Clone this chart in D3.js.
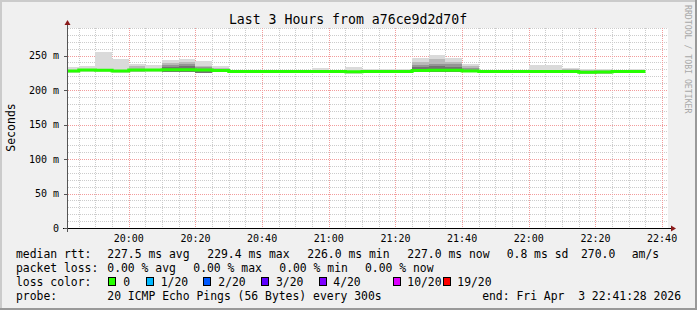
<!DOCTYPE html>
<html><head><meta charset="utf-8">
<script src="https://cdn.jsdelivr.net/npm/d3@7"></script>
<style>
body{margin:0;background:#f0f0f0;}
svg{display:block;}
text{font-family:"DejaVu Sans Mono",monospace;fill:#000;}
</style>
</head><body>
<svg id="chart" width="697" height="310"></svg>
<script>
// ---------------- data ----------------
const titleText = "Last 3 Hours from a76ce9d2d70f";
const startTime = "19:41:28";
const endTime = "22:41:28";
const binEnds = ["19:45","19:50","19:55","20:00","20:05","20:10","20:15","20:20","20:25","20:30",
  "20:35","20:40","20:45","20:50","20:55","21:00","21:05","21:10","21:15","21:20",
  "21:25","21:30","21:35","21:40","21:45","21:50","21:55","22:00","22:05","22:10",
  "22:15","22:20","22:25","22:30","22:35"];
const median = [227.5,229.0,228.8,227.8,229.0,229.0,229.4,229.4,229.0,228.5,
  227.0,227.0,227.0,227.0,227.0,227.0,227.0,226.5,227.0,227.0,
  227.0,228.5,228.8,228.8,227.8,226.8,226.8,226.8,227.0,227.0,
  227.0,226.0,226.2,227.0,227.0];
const smokeBottom = [224.5,226,226,224.8,226,226,226.4,226.4,225,225.5,
  224.5,224.5,224.5,224.5,224.5,224.5,224.5,224,224.5,224.5,
  224.5,225.5,225.8,225.8,225.5,224.3,224.3,224.3,224.5,224.5,
  224.5,223.5,223.7,224.5,224.5];
const smokeOuter = [234,235.5,255.5,245,238.5,236.5,243.5,245,242,235.5,
  229.5,229.5,229.5,229.5,229.5,232.5,229.5,234,231,231,
  231,246.5,250.5,246.5,237.5,229,229,229,236.5,236.5,
  232,230.5,230,229,230.5];
const smokeMid = [null,null,null,null,235.5,null,239.5,240.5,235.5,232,
  null,null,null,null,null,null,null,null,null,null,
  null,240,245,241,235,null,null,null,null,null,
  230.5,229.8,229.8,null,229.5];
const smokeDark = [null,null,null,null,null,null,236.5,238.5,234,null,
  null,null,null,null,null,null,null,null,null,null,
  null,236.5,238.5,237.5,232,null,null,null,null,null,
  null,null,null,null,null];
const smokeDarkest = [null,null,null,null,null,null,234,234.5,231,null,
  null,null,null,null,null,null,null,null,null,null,
  null,234,235,234,null,null,null,null,null,null,
  null,null,null,null,null];
const yTickValues = [0,50,100,150,200,250];
const yTickLabels = ["0","50 m","100 m","150 m","200 m","250 m"];
const xTickTimes = ["20:00","20:20","20:40","21:00","21:20","21:40","22:00","22:20","22:40"];
const xTickLabels = ["20:00","20:20","20:40","21:00","21:20","21:40","22:00","22:20","22:40"];
const lossLabels = ["0","1/20","2/20","3/20","4/20","10/20","19/20"];
const lossColors = ["#26ff00","#00b8ff","#0059ff","#5e00ff","#7e00ff","#dd00ff","#ff0000"];
const statRtt = ["227.5 ms avg","229.4 ms max","226.0 ms min","227.0 ms now","0.8 ms sd","270.0","am/s"];
const statLoss = ["0.00 % avg","0.00 % max","0.00 % min","0.00 % now"];
const probeText = "20 ICMP Echo Pings (56 Bytes) every 300s";
const endText = "end: Fri Apr  3 22:41:28 2026";

// ---------------- helpers ----------------
function toDate(s){const p=s.split(":").map(Number);return new Date(2026,3,3,p[0],p[1],p[2]||0);}
const svg = d3.select("#chart");
const L=67, R=667, T=28, B=228;
const x = d3.scaleTime().domain([toDate(startTime),toDate(endTime)]).range([L,R]);
const y = d3.scaleLinear().domain([0,290]).range([B,T]);
const pr = v=>Math.round(v);

// dotted patterns
const defs = svg.append("defs");
function dotPattern(id, w, h, color){
  const p = defs.append("pattern").attr("id",id).attr("patternUnits","userSpaceOnUse")
    .attr("width",w).attr("height",h);
  p.append("rect").attr("width",1).attr("height",1).attr("fill",color);
}
dotPattern("hMinor",2,1,"#cccccc");
dotPattern("vMinor",1,2,"#cccccc");
dotPattern("hMajor",2,1,"#f29c9c");
dotPattern("vMajor",1,2,"#f29c9c");

// background / bevel
svg.append("rect").attr("width",697).attr("height",310).attr("fill","#f0f0f0");
svg.append("rect").attr("x",0).attr("y",0).attr("width",697).attr("height",2).attr("fill","#cbcbcb");
svg.append("rect").attr("x",0).attr("y",0).attr("width",2).attr("height",310).attr("fill","#cbcbcb");
svg.append("rect").attr("x",695).attr("y",0).attr("width",2).attr("height",310).attr("fill","#999999");
svg.append("rect").attr("x",0).attr("y",308).attr("width",697).attr("height",2).attr("fill","#999999");
// canvas
svg.append("rect").attr("x",L).attr("y",T).attr("width",R-L+1).attr("height",B-T).attr("fill","#ffffff");

// grid
const grid = svg.append("g").attr("shape-rendering","crispEdges");
const minorY = d3.range(10,291,10).filter(v=>v%50!==0);
const majorY = d3.range(50,291,50);
const gridTimes = d3.range(0,36).map(k=>({t:new Date(toDate("19:45").getTime()+k*300000), major:((45+5*k)%20)===0}));
grid.selectAll("rect.hy").data(minorY).join("rect").attr("class","hy")
  .attr("x",L).attr("width",R-L+1).attr("y",d=>pr(y(d))).attr("height",1).attr("fill","url(#hMinor)");
grid.selectAll("rect.vx").data(gridTimes.filter(d=>!d.major)).join("rect").attr("class","vx")
  .attr("y",T).attr("height",B-T).attr("x",d=>pr(x(d.t))).attr("width",1).attr("fill","url(#vMinor)");
grid.selectAll("rect.hyM").data(majorY).join("rect").attr("class","hyM")
  .attr("x",L).attr("width",R-L+1).attr("y",d=>pr(y(d))).attr("height",1).attr("fill","url(#hMajor)");
grid.selectAll("rect.vxM").data(gridTimes.filter(d=>d.major)).join("rect").attr("class","vxM")
  .attr("y",T).attr("height",B-T).attr("x",d=>pr(x(d.t))).attr("width",1).attr("fill","url(#vMajor)");

// smoke
const bins = binEnds.map((e,i)=>({x0: i===0?toDate(startTime):toDate(binEnds[i-1]), x1: toDate(e), i}));
const layers = [
  {vals:smokeOuter,color:"#dadada"},
  {vals:smokeMid,color:"#b9b9b9"},
  {vals:smokeDark,color:"#959595"},
  {vals:smokeDarkest,color:"#727272"}
];
const smoke = svg.append("g");
layers.forEach(ly=>{
  smoke.append("g").selectAll("rect").data(bins.filter(b=>ly.vals[b.i]!==null)).join("rect")
    .attr("x",b=>x(b.x0)).attr("width",b=>x(b.x1)-x(b.x0))
    .attr("y",b=>y(ly.vals[b.i])).attr("height",b=>y(smokeBottom[b.i])-y(ly.vals[b.i]))
    .attr("fill",ly.color).attr("shape-rendering","crispEdges");
});

// median line (step)
const pts = bins.map(b=>[b.x0, median[b.i]]);
pts.push([bins[bins.length-1].x1, median[median.length-1]]);
svg.append("path").datum(pts)
  .attr("d", d3.line().x(d=>x(d[0])).y(d=>y(d[1])).curve(d3.curveStepAfter))
  .attr("fill","none").attr("stroke","#26ff00").attr("stroke-width",3);

// axes
const axisG = svg.append("g");
axisG.append("line").attr("x1",L-4).attr("x2",R+4).attr("y1",B+0.5).attr("y2",B+0.5).attr("stroke","#000");
axisG.append("line").attr("x1",L+0.5).attr("x2",L+0.5).attr("y1",B+4).attr("y2",T-4).attr("stroke","#555");
axisG.append("path").attr("d",`M${R+4},${B-2.5} L${R+9},${B+0.5} L${R+4},${B+3.5} Z`).attr("fill","#8b1a1a");
axisG.append("path").attr("d",`M${L-2.5},${T-3} L${L+0.5},${T-8} L${L+3.5},${T-3} Z`).attr("fill","#8b1a1a");
// y ticks
axisG.selectAll("line.yt").data(yTickValues).join("line").attr("class","yt")
  .attr("x1",L-3).attr("x2",L).attr("y1",d=>pr(y(d))+0.5).attr("y2",d=>pr(y(d))+0.5).attr("stroke","#555");
axisG.selectAll("text.ytl").data(yTickValues).join("text").attr("class","ytl")
  .attr("x",59).attr("y",d=>y(d)+3.5).attr("text-anchor","end")
  .attr("font-size","10px").text((d,i)=>yTickLabels[i]);
// x tick labels
axisG.selectAll("text.xtl").data(xTickTimes).join("text").attr("class","xtl")
  .attr("x",d=>x(toDate(d))).attr("y",241.5).attr("text-anchor","middle")
  .attr("font-size","10px").text((d,i)=>xTickLabels[i]);

// title
svg.append("text").attr("x",348).attr("y",24).attr("text-anchor","middle")
  .attr("font-size","13.2px").text(titleText);
// y label
svg.append("text").attr("transform","translate(14.5,127.5) rotate(-90)").attr("text-anchor","middle")
  .attr("font-size","11.5px").text("Seconds");
// watermark
svg.append("text").attr("transform","translate(684.5,5) rotate(90)").attr("text-anchor","start")
  .attr("font-size","8.2px").style("fill","#a8a8a8").text("RRDTOOL / TOBI OETIKER");

// legend
const lg = svg.append("g").attr("font-size","11.4px");
const row1x = [107.3,207.3,307.3,407.3,506.7,581,631.7];
lg.append("text").attr("x",16).attr("y",257.5).text("median rtt:");
lg.selectAll("text.r1").data(statRtt).join("text").attr("class","r1").attr("x",(d,i)=>row1x[i]).attr("y",257.5).text(d=>d);
const row2x = [107.3,193.3,279.3,365];
lg.append("text").attr("x",16).attr("y",271.5).text("packet loss:");
lg.selectAll("text.r2").data(statLoss).join("text").attr("class","r2").attr("x",(d,i)=>row2x[i]).attr("y",271.5).text(d=>d);
lg.append("text").attr("x",16).attr("y",285.5).text("loss color:");
const boxX = [108.3,146,203.3,261,319.3,392.7,442.7];
const labX = [123.3,160.7,218.3,276,333.3,407.3,457.3];
lg.selectAll("rect.bx").data(lossColors).join("rect").attr("class","bx")
  .attr("x",(d,i)=>Math.round(boxX[i])+0.5).attr("y",277.5).attr("width",7).attr("height",8)
  .attr("fill",d=>d).attr("stroke","#000").attr("stroke-width",1);
lg.selectAll("text.bl").data(lossLabels).join("text").attr("class","bl").attr("x",(d,i)=>labX[i]).attr("y",285.5).text(d=>d);
lg.append("text").attr("x",16).attr("y",299.5).text("probe:");
lg.append("text").attr("x",107.3).attr("y",299.5).text(probeText);
lg.append("text").attr("x",681).attr("y",299.5).attr("text-anchor","end").style("white-space","pre").text(endText);
</script>
</body></html>
